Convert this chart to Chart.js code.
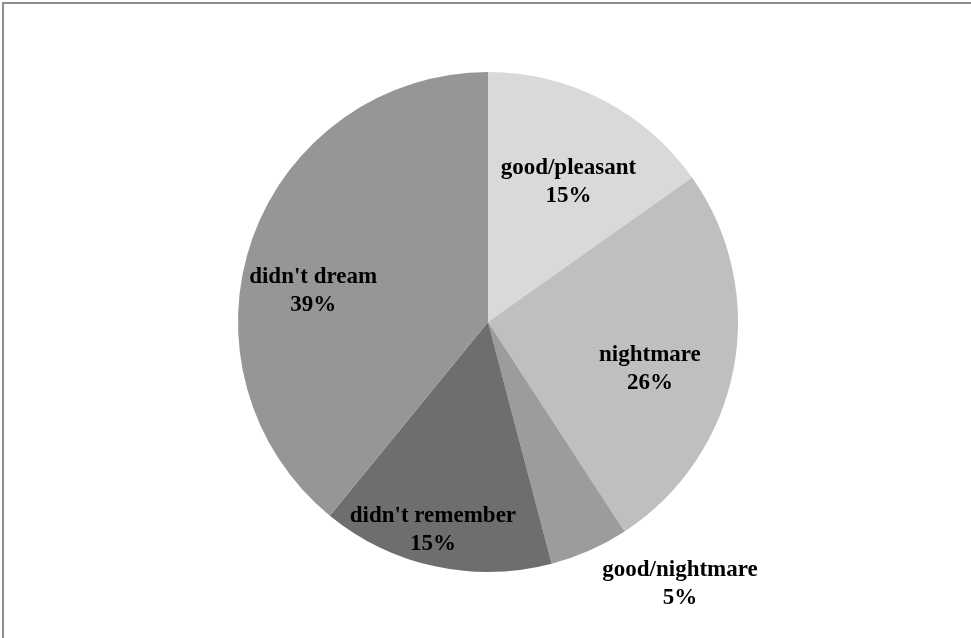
<!DOCTYPE html>
<html>
<head>
<meta charset="utf-8">
<script src="https://cdn.jsdelivr.net/npm/chart.js@4/dist/chart.umd.min.js"></script>
<style>
  html, body { margin: 0; padding: 0; background: #ffffff; overflow: hidden; }
  canvas { display: block; }
</style>
</head>
<body>
<canvas id="c" width="971" height="638"></canvas>
<script>
const categories = ["good/pleasant", "nightmare", "good/nightmare", "didn't remember", "didn't dream"];
// slice sizes (percent of respondents)
const shares = [15.2, 25.6, 5.1, 15.0, 39.1];
// percentage text printed on each slice
const percentLabels = ["15%", "26%", "5%", "15%", "39%"];
const sliceColors = ["#d9d9d9", "#bfbfbf", "#9c9c9c", "#6e6e6e", "#969696"];

// label placement tweaks (pixels, relative to a point at 70% of the radius on the slice mid-angle)
const labelShift = [[0, 15], [-10, 14], [121, 102], [-18, 37], [-10, 28]];

const framePlugin = {
  id: 'frame',
  beforeDraw(chart) {
    const ctx = chart.ctx;
    ctx.save();
    ctx.fillStyle = '#ffffff';
    ctx.fillRect(0, 0, chart.width, chart.height);
    ctx.fillStyle = '#8e8e8e';
    ctx.fillRect(2, 2, chart.width - 2, 2);
    ctx.fillRect(2, 2, 2, chart.height - 2);
    ctx.restore();
  }
};

const labelPlugin = {
  id: 'sliceLabels',
  afterDatasetsDraw(chart) {
    const ctx = chart.ctx;
    const meta = chart.getDatasetMeta(0);
    ctx.save();
    ctx.font = 'bold 23px "Liberation Serif", "Times New Roman", serif';
    ctx.fillStyle = '#000000';
    ctx.textAlign = 'center';
    ctx.textBaseline = 'middle';
    meta.data.forEach((arc, i) => {
      const p = arc.getProps(['x', 'y', 'startAngle', 'endAngle', 'outerRadius'], true);
      const mid = (p.startAngle + p.endAngle) / 2;
      const r = p.outerRadius * 0.7;
      const cx = p.x + Math.cos(mid) * r + labelShift[i][0];
      const cy = p.y + Math.sin(mid) * r + labelShift[i][1];
      ctx.fillText(categories[i], cx, cy - 14);
      ctx.fillText(percentLabels[i], cx, cy + 14);
    });
    ctx.restore();
  }
};

new Chart(document.getElementById('c'), {
  type: 'pie',
  data: {
    labels: categories,
    datasets: [{
      data: shares,
      backgroundColor: sliceColors,
      borderWidth: 0
    }]
  },
  options: {
    responsive: false,
    animation: false,
    layout: { padding: { top: 72, bottom: 66, left: 5, right: 0 } },
    plugins: {
      legend: { display: false },
      tooltip: { enabled: false }
    }
  },
  plugins: [framePlugin, labelPlugin]
});
</script>
</body>
</html>
